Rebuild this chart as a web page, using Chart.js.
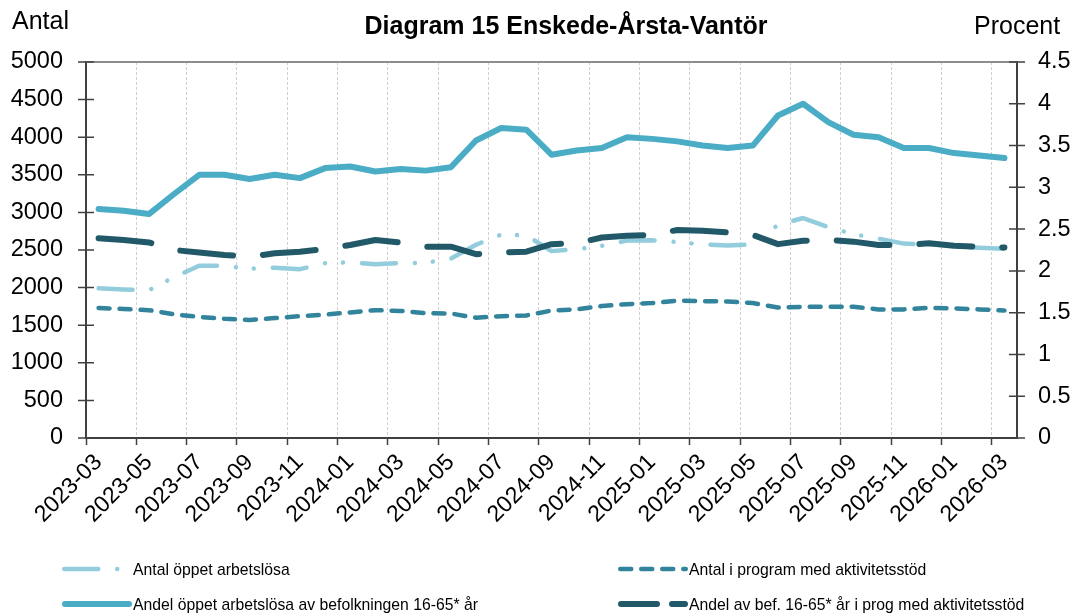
<!DOCTYPE html>
<html><head><meta charset="utf-8">
<script src="https://cdn.jsdelivr.net/npm/chart.js@4.4.0/dist/chart.umd.min.js"></script>
<style>
html,body{margin:0;padding:0;background:#fff;}
#wrap{position:relative;width:1076px;height:614px;font-family:"Liberation Sans",Arial,sans-serif;color:#000;}
#c{position:absolute;left:0;top:0;}
.t{position:absolute;white-space:nowrap;}
.leg{position:absolute;white-space:nowrap;font-size:15.75px;line-height:18px;}
canvas.s{position:absolute;}
</style></head><body>
<div id="wrap">
<canvas id="c" width="1076" height="614"></canvas>
<div class="t" style="left:12px;top:8px;font-size:25px;line-height:25px;">Antal</div>
<div class="t" style="left:566px;top:13px;font-size:25px;line-height:25px;font-weight:bold;transform:translateX(-50%);">Diagram 15 Enskede-Årsta-Vantör</div>
<div class="t" style="left:974px;top:13px;font-size:25px;line-height:25px;">Procent</div>
<div id="legend"></div>
</div>
<script>
const months = ["2023-03","2023-04","2023-05","2023-06","2023-07","2023-08","2023-09","2023-10","2023-11","2023-12",
"2024-01","2024-02","2024-03","2024-04","2024-05","2024-06","2024-07","2024-08","2024-09","2024-10","2024-11","2024-12",
"2025-01","2025-02","2025-03","2025-04","2025-05","2025-06","2025-07","2025-08","2025-09","2025-10","2025-11","2025-12",
"2026-01","2026-02","2026-03"];
const antalOppet = [1990,1975,1965,2140,2290,2290,2250,2265,2245,2325,2335,2310,2325,2330,2385,2570,2705,2695,2485,2510,2555,2625,2630,2605,2575,2560,2575,2835,2925,2805,2710,2650,2585,2575,2550,2530,2515];
const antalProgram = [1730,1715,1700,1645,1610,1585,1570,1595,1620,1640,1670,1700,1690,1660,1655,1600,1620,1630,1695,1710,1755,1780,1795,1825,1820,1815,1795,1735,1745,1745,1745,1710,1710,1730,1725,1710,1695];
const andelOppet = [2.74,2.72,2.68,2.92,3.15,3.15,3.10,3.15,3.11,3.23,3.25,3.19,3.22,3.20,3.24,3.56,3.71,3.69,3.39,3.44,3.47,3.60,3.58,3.55,3.50,3.47,3.50,3.86,4.00,3.78,3.63,3.60,3.47,3.47,3.41,3.38,3.35];
const andelProgram = [2.39,2.37,2.34,2.25,2.22,2.19,2.17,2.21,2.23,2.26,2.31,2.37,2.34,2.29,2.29,2.20,2.22,2.23,2.32,2.33,2.40,2.42,2.43,2.49,2.48,2.46,2.43,2.32,2.36,2.37,2.35,2.31,2.31,2.33,2.30,2.29,2.28];
const leftTicks = {min:0, max:5000, step:500};
const rightTicks = {min:0, max:4.5, step:0.5};
const seriesNames = ["Antal öppet arbetslösa","Antal i program med aktivitetsstöd","Andel öppet arbetslösa av befolkningen 16-65* år","Andel av bef. 16-65* år i prog med aktivitetsstöd"];

const FONT = '"Liberation Sans", Arial, sans-serif';
const styles = [
  {color:'#93cddd', width:4.5, dash:[34,19,0.01,18,0.01,19], legendDash:[34,19,0.01,40]},
  {color:'#31849b', width:4.5, dash:[11,10], legendDash:[11,10]},
  {color:'#4bacc6', width:6, dash:[], legendDash:[]},
  {color:'#215968', width:6, dash:[53,30], legendDash:[36,15]}
];
const values = [antalOppet, antalProgram, andelOppet, andelProgram];
const axes = ['y','y','y1','y1'];
const orders = [3,2,1,0];

const datasets = values.map((v,i)=>({
  label: seriesNames[i], data: v, yAxisID: axes[i], order: orders[i],
  borderColor: styles[i].color, backgroundColor: styles[i].color,
  borderWidth: styles[i].width, borderDash: styles[i].dash,
  borderCapStyle: 'round', borderJoinStyle: 'round',
  pointRadius: 0, pointHoverRadius: 0, tension: 0, fill: false
}));

const framePlugin = {
  id: 'frame',
  afterDraw(chart) {
    const {ctx, chartArea: a, scales} = chart;
    ctx.save();
    ctx.strokeStyle = '#8c8c8c'; ctx.lineWidth = 2;
    ctx.beginPath(); ctx.moveTo(a.left, a.top); ctx.lineTo(a.right, a.top); ctx.stroke();
    ctx.strokeStyle = '#404040'; ctx.lineWidth = 1.5;
    ctx.beginPath();
    [['y', a.left], ['y1', a.right]].forEach(([id, x0]) => {
      const s = scales[id];
      s.ticks.forEach(t => {
        const y = s.getPixelForValue(t.value);
        ctx.moveTo(x0 - 8, y); ctx.lineTo(x0 + 8, y);
      });
    });
    ctx.stroke();
    ctx.restore();
  }
};

const gridColor = c => (c.index % 2 === 0 ? '#cfcfcf' : 'rgba(0,0,0,0)');
const tickColor = c => (c.index % 2 === 0 ? '#404040' : 'rgba(0,0,0,0)');

new Chart(document.getElementById('c'), {
  type: 'line',
  data: { labels: months, datasets },
  plugins: [framePlugin],
  options: {
    responsive: false, animation: false, devicePixelRatio: 1,
    layout: { padding: { top: 62, left: 0, right: 0, bottom: 0 } },
    plugins: { legend: { display: false }, title: { display: false }, tooltip: { enabled: false } },
    scales: {
      x: {
        type: 'category', offset: true,
        grid: { offset: true, color: gridColor, tickColor: tickColor, lineWidth: 1, tickWidth: 1.5, tickLength: 7, drawTicks: true, tickBorderDash: [] },
        border: { display: true, color: '#404040', width: 2, dash: [3, 2] },
        ticks: {
          autoSkip: false, minRotation: 45, maxRotation: 45, padding: 4,
          color: '#000', font: { family: FONT, size: 23 },
          callback: function(v, i) { return i % 2 === 0 ? this.getLabelForValue(v) : ''; }
        },
        afterFit: s => { s.height = 614 - 438; }
      },
      y: {
        position: 'left', min: leftTicks.min, max: leftTicks.max,
        grid: { display: false, drawTicks: false },
        border: { display: true, color: '#404040', width: 2 },
        ticks: { stepSize: leftTicks.step, padding: 23, color: '#000', font: { family: FONT, size: 23.5 }, callback: v => String(v) },
        afterFit: s => { s.width = 86; }
      },
      y1: {
        position: 'right', min: rightTicks.min, max: rightTicks.max,
        grid: { display: false, drawTicks: false },
        border: { display: true, color: '#404040', width: 2 },
        ticks: { stepSize: rightTicks.step, padding: 21, color: '#000', font: { family: FONT, size: 23.5 }, callback: v => String(Math.round(v * 10) / 10) },
        afterFit: s => { s.width = 1076 - 1017; }
      }
    }
  }
});

// HTML legend (two columns)
const legendPos = [[62, 133, 569], [618, 689, 569], [62, 133, 604], [618, 689, 604]];
const legendEl = document.getElementById('legend');
legendPos.forEach(([sx, tx, cy], i) => {
  const st = styles[i];
  const cv = document.createElement('canvas');
  cv.className = 's'; cv.width = 70; cv.height = 14;
  cv.style.left = sx + 'px'; cv.style.top = (cy - 7) + 'px';
  const g = cv.getContext('2d');
  g.strokeStyle = st.color; g.lineWidth = st.width; g.lineCap = 'round';
  g.setLineDash(st.legendDash);
  g.beginPath(); g.moveTo(st.width / 2, 7); g.lineTo(70 - st.width / 2, 7); g.stroke();
  legendEl.appendChild(cv);
  const d = document.createElement('div');
  d.className = 'leg'; d.textContent = seriesNames[i];
  d.style.left = tx + 'px'; d.style.top = (cy - 8) + 'px';
  legendEl.appendChild(d);
});
</script>
</body></html>
